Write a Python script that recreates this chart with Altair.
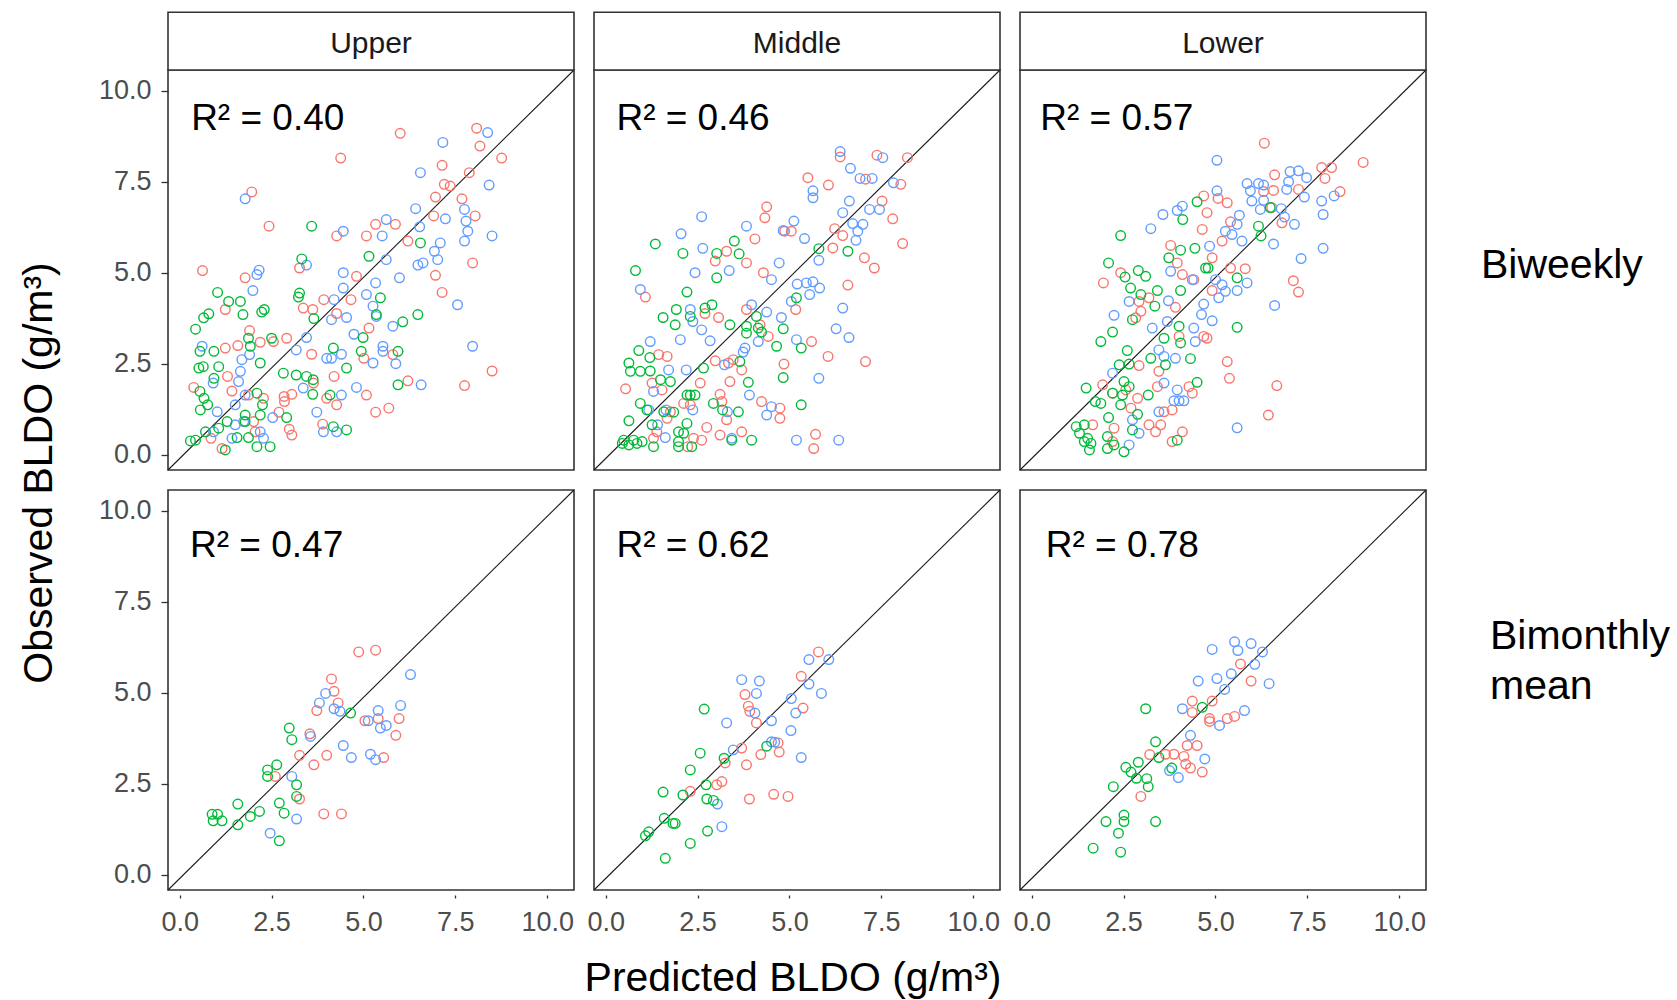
import altair as alt
import pandas as pd

FONT = "Liberation Sans, Arial, Helvetica, sans-serif"

# Axis limits shared by every panel (ggplot-style expanded range)
X_LIM = [-0.32, 10.73]
Y_LIM = [-0.42, 10.57]
TICKS = [0, 2.5, 5, 7.5, 10]

ZONES = ["Upper", "Middle", "Lower"]
GROUPS = ["Group 1", "Group 2", "Group 3"]
COLORS = ["#F8766D", "#00BA38", "#619CFF"]

# R² per panel: [row][column]
R2_LABELS = [["R² = 0.40", "R² = 0.46", "R² = 0.57"],
             ["R² = 0.47", "R² = 0.62", "R² = 0.78"]]
R2_X = [[0.31, 0.29, 0.23], [0.28, 0.29, 0.38]]
R2_Y = [[8.92, 8.92, 8.92], [8.74, 8.74, 8.74]]

# ---------------- Biweekly, Upper ----------------
UB_G1 = [(6.00, 8.83), (8.08, 8.97), (8.17, 8.48), (4.38, 8.15), (8.76, 8.15), (7.14, 7.95), (7.88, 7.75),
         (7.20, 7.43), (7.36, 7.38), (1.96, 7.22), (6.96, 7.08), (7.68, 7.03), (6.91, 6.56), (8.04, 6.56),
         (2.43, 6.28), (5.33, 6.33), (5.87, 6.33), (4.27, 6.01), (5.08, 6.01), (6.21, 5.87), (7.97, 5.27),
         (0.62, 5.06), (1.78, 4.86), (6.96, 4.93), (4.81, 4.90), (3.26, 5.13), (7.14, 4.46), (3.92, 4.26),
         (4.66, 4.26), (1.24, 3.99), (3.36, 4.03), (3.62, 3.99), (4.27, 3.88), (5.15, 3.48), (1.90, 3.41),
         (2.91, 3.20), (2.55, 3.11), (1.24, 2.93), (1.58, 3.00), (3.59, 2.76), (5.01, 2.65), (5.80, 2.75),
         (4.20, 2.15), (6.21, 2.03), (8.50, 2.30), (7.75, 1.90), (0.38, 1.85), (1.42, 1.75), (3.05, 1.66),
         (5.08, 1.64), (2.84, 1.60), (2.85, 1.46), (4.00, 1.55), (4.27, 1.37), (5.33, 1.17), (5.69, 1.28),
         (2.70, 1.17), (3.89, 0.84), (2.98, 0.70), (3.05, 0.54), (2.01, 0.91), (2.05, 0.63), (0.85, 0.45),
         (1.15, 0.17), (1.87, 1.64), (2.28, 1.55), (1.30, 2.15), (2.19, 3.09), (3.64, 1.97)]
UB_G3 = [(8.38, 8.85), (7.16, 8.58), (6.55, 7.75), (8.42, 7.41), (1.78, 7.03), (6.42, 6.76), (7.75, 6.74),
         (7.23, 6.48), (5.62, 6.46), (6.53, 6.26), (7.79, 6.42), (7.84, 6.14), (7.75, 5.87), (8.50, 6.01),
         (4.45, 6.14), (5.51, 6.01), (7.09, 5.82), (6.93, 5.59), (5.62, 5.36), (7.02, 5.36), (6.62, 5.27),
         (6.48, 5.21), (3.45, 5.21), (2.16, 5.07), (2.10, 4.95), (4.45, 5.00), (5.33, 4.72), (5.98, 4.86),
         (1.99, 4.51), (4.45, 4.58), (4.20, 4.26), (5.08, 4.40), (5.26, 4.08), (5.35, 3.80), (7.56, 4.12),
         (4.54, 3.77), (4.13, 3.71), (5.80, 3.53), (4.74, 3.31), (3.45, 3.22), (7.97, 2.98), (5.53, 2.98),
         (5.53, 2.84), (3.17, 2.88), (4.40, 2.76), (4.00, 2.65), (4.13, 2.65), (5.26, 2.52), (5.88, 2.50),
         (1.69, 2.61), (1.90, 2.75), (0.61, 2.98), (1.65, 2.29), (0.91, 1.97), (1.60, 2.01), (3.36, 1.83),
         (4.81, 1.85), (4.40, 1.64), (6.57, 1.92), (3.73, 1.17), (2.53, 1.02), (1.02, 1.18), (1.51, 1.37),
         (3.91, 0.63), (4.27, 0.63), (2.19, 0.63), (2.28, 0.45), (1.51, 0.82), (1.74, 0.91), (1.42, 0.45),
         (1.78, 1.64), (0.92, 0.63)]
UB_G2 = [(3.59, 6.28), (6.55, 5.82), (3.32, 5.38), (5.15, 5.45), (3.26, 4.44), (3.23, 4.33), (1.03, 4.46),
         (1.65, 4.21), (1.33, 4.21), (5.46, 4.31), (0.79, 3.87), (0.65, 3.76), (1.72, 3.85), (2.30, 3.99),
         (2.23, 3.92), (3.65, 3.74), (5.35, 3.85), (6.48, 3.85), (6.07, 3.65), (0.43, 3.45), (4.99, 3.22),
         (1.87, 3.20), (2.50, 3.20), (4.18, 2.93), (0.55, 2.84), (0.93, 2.84), (1.92, 2.98), (4.94, 2.84),
         (5.94, 2.84), (0.52, 2.38), (0.64, 2.42), (1.06, 2.42), (2.19, 2.52), (2.82, 2.24), (3.17, 2.19),
         (3.45, 2.15), (3.63, 2.06), (4.54, 2.38), (5.94, 1.92), (0.93, 2.10), (0.55, 1.74), (0.66, 1.55),
         (0.76, 1.37), (0.56, 1.23), (2.10, 1.69), (2.25, 1.37), (3.62, 1.66), (4.09, 1.64), (2.91, 1.02),
         (1.78, 1.09), (1.78, 0.91), (4.18, 0.77), (4.54, 0.68), (2.46, 0.22), (2.10, 0.22), (1.24, 0.13),
         (0.29, 0.38), (0.43, 0.40), (0.70, 0.63), (1.06, 0.73), (1.56, 0.47), (1.87, 0.47), (1.29, 0.91),
         (2.19, 1.09)]

# ---------------- Biweekly, Middle ----------------
MB_G1 = [(6.38, 8.18), (7.38, 8.23), (8.21, 8.16), (5.50, 7.61), (6.06, 7.41), (7.07, 7.57), (8.03, 7.43),
         (7.52, 6.97), (4.38, 6.81), (4.33, 6.51), (7.81, 6.48), (4.87, 6.14), (5.05, 6.14), (4.06, 5.93),
         (6.23, 6.21), (6.45, 6.02), (6.18, 5.68), (8.08, 5.80), (3.29, 5.59), (2.98, 5.32), (3.83, 5.27),
         (7.04, 5.41), (7.31, 5.13), (4.29, 5.00), (6.59, 4.66), (1.08, 4.33), (3.83, 3.99), (3.07, 3.77),
         (2.70, 3.88), (5.17, 3.99), (4.20, 3.57), (4.42, 3.25), (5.60, 3.11), (6.05, 2.70), (7.07, 2.56),
         (1.44, 2.75), (1.67, 2.70), (2.98, 2.58), (3.34, 2.52), (3.47, 2.61), (3.70, 2.33), (4.85, 2.49),
         (0.54, 1.81), (1.26, 1.97), (2.57, 1.97), (3.38, 2.01), (3.11, 1.66), (1.53, 1.78), (2.12, 1.41),
         (2.30, 1.37), (3.16, 1.46), (4.24, 1.46), (4.74, 1.28), (4.74, 1.00), (3.29, 0.96), (2.75, 0.75),
         (3.11, 0.54), (3.70, 0.63), (2.61, 0.40), (5.71, 0.56), (5.66, 0.17), (1.30, 0.45), (1.39, 0.63),
         (1.67, 1.00), (1.76, 1.18), (2.39, 0.45), (2.23, 0.22)]
MB_G3 = [(6.38, 8.33), (6.66, 7.87), (7.54, 8.16), (6.92, 7.59), (7.25, 7.59), (7.83, 7.47), (5.64, 7.25),
         (5.64, 7.06), (6.63, 6.97), (7.18, 6.74), (7.45, 6.74), (6.45, 6.65), (2.61, 6.54), (3.83, 6.28),
         (5.12, 6.42), (6.72, 6.35), (7.00, 6.33), (6.86, 6.14), (6.81, 5.89), (2.05, 6.07), (5.41, 5.94),
         (4.83, 6.16), (2.64, 5.67), (5.80, 5.34), (4.72, 5.27), (3.36, 5.06), (2.43, 5.00), (4.51, 4.81),
         (5.21, 4.69), (5.46, 4.72), (5.64, 4.75), (5.82, 4.58), (5.55, 4.40), (0.94, 4.54), (5.05, 4.21),
         (6.45, 4.03), (3.97, 4.12), (4.38, 3.92), (4.78, 3.77), (2.30, 3.99), (2.37, 3.66), (2.61, 3.43),
         (2.84, 3.13), (2.03, 3.16), (1.21, 3.11), (6.27, 3.46), (6.62, 3.22), (5.19, 3.16), (4.15, 3.11),
         (3.79, 2.93), (3.74, 2.82), (3.23, 2.47), (2.19, 2.33), (1.71, 2.33), (1.30, 1.74), (3.91, 1.64),
         (5.80, 2.10), (4.38, 1.09), (4.51, 1.32), (3.31, 1.18), (2.37, 1.23), (1.64, 1.23), (1.17, 1.23),
         (3.43, 0.45), (5.19, 0.40), (6.34, 0.40), (1.62, 0.47), (1.41, 0.82)]
MB_G2 = [(1.35, 5.79), (2.10, 5.53), (3.50, 5.87), (3.63, 5.52), (3.02, 5.53), (0.81, 5.06), (3.02, 4.86),
         (2.21, 4.47), (5.80, 5.66), (6.59, 5.59), (5.19, 4.31), (2.89, 4.12), (2.70, 4.03), (1.92, 3.99),
         (1.56, 3.77), (2.30, 3.80), (1.89, 3.57), (3.38, 3.57), (3.83, 3.53), (4.10, 3.80), (4.15, 3.48),
         (4.83, 3.46), (3.83, 3.34), (4.24, 3.37), (4.65, 2.98), (5.32, 2.93), (0.90, 2.86), (1.20, 2.67),
         (0.63, 2.52), (0.67, 2.29), (0.94, 2.29), (1.21, 2.30), (1.49, 2.06), (1.76, 2.01), (2.66, 2.38),
         (3.65, 2.56), (4.83, 2.12), (3.88, 1.99), (2.21, 1.64), (2.30, 1.64), (2.43, 1.64), (2.93, 1.41),
         (3.18, 1.23), (3.61, 1.18), (5.32, 1.37), (0.94, 1.41), (1.12, 1.23), (0.63, 0.93), (1.58, 1.18),
         (1.85, 1.17), (2.21, 0.86), (1.26, 0.82), (1.98, 0.63), (2.12, 0.59), (3.97, 0.40), (3.43, 0.40),
         (0.49, 0.40), (0.76, 0.40), (0.85, 0.31), (0.63, 0.27), (0.99, 0.36), (0.45, 0.31), (1.30, 0.22),
         (1.98, 0.22), (2.34, 0.22), (1.98, 0.36)]

# ---------------- Biweekly, Lower ----------------
LB_G1 = [(6.33, 8.56), (9.02, 8.03), (7.89, 7.89), (8.16, 7.89), (7.98, 7.59), (8.39, 7.23), (6.61, 7.69),
         (6.58, 7.26), (6.31, 7.23), (7.26, 7.29), (4.68, 7.11), (5.07, 7.04), (5.32, 6.92), (4.77, 6.65),
         (5.41, 6.40), (4.64, 6.19), (6.53, 6.79), (6.81, 6.37), (3.78, 5.75), (5.18, 5.87), (4.91, 5.41),
         (3.96, 5.27), (4.10, 4.95), (4.41, 4.81), (1.95, 4.72), (2.42, 5.00), (5.81, 5.11), (5.41, 5.13),
         (7.12, 4.78), (7.26, 4.47), (4.91, 4.51), (2.92, 4.21), (3.19, 4.31), (2.83, 3.76), (2.97, 3.94),
         (3.91, 4.05), (4.68, 3.25), (4.77, 3.20), (4.01, 3.25), (5.32, 2.56), (5.38, 2.10), (6.67, 1.90),
         (6.44, 1.09), (2.92, 2.45), (3.46, 2.29), (3.42, 1.87), (4.28, 1.87), (4.37, 1.69), (3.82, 1.23),
         (3.60, 1.18), (2.88, 1.55), (2.56, 1.78), (2.20, 1.69), (3.19, 0.82), (3.51, 0.82), (4.10, 0.63),
         (3.37, 0.63), (3.82, 0.36), (2.24, 0.73), (1.66, 0.82), (2.20, 0.36), (1.93, 1.92), (2.70, 1.28)]
LB_G3 = [(5.04, 8.09), (7.03, 7.78), (7.26, 7.80), (7.48, 7.61), (5.86, 7.45), (6.17, 7.45), (5.95, 7.25),
         (6.31, 7.41), (6.99, 7.50), (6.94, 7.29), (7.42, 7.08), (7.89, 6.97), (8.23, 7.11), (7.93, 6.60),
         (5.99, 6.97), (6.31, 6.99), (6.22, 6.74), (6.79, 6.76), (6.88, 6.53), (7.15, 6.33), (5.04, 7.25),
         (4.10, 6.83), (3.96, 6.71), (3.57, 6.60), (3.24, 6.21), (5.65, 6.58), (5.59, 6.33), (5.27, 6.14),
         (5.45, 6.05), (5.72, 5.87), (4.84, 5.73), (6.58, 5.79), (7.93, 5.67), (7.33, 5.39), (3.78, 5.04),
         (4.37, 4.81), (5.00, 4.81), (5.18, 4.67), (5.59, 4.51), (5.86, 4.72), (5.27, 4.49), (5.09, 4.31),
         (2.65, 4.21), (3.72, 4.23), (4.68, 4.14), (6.61, 4.10), (2.24, 3.83), (4.62, 3.85), (4.91, 3.68),
         (3.69, 3.66), (4.41, 3.48), (3.28, 3.48), (4.45, 3.11), (3.46, 2.88), (3.60, 2.70), (3.91, 2.65),
         (2.20, 2.24), (3.60, 1.97), (3.96, 1.78), (3.87, 1.48), (4.01, 1.48), (4.14, 1.48), (3.46, 1.18),
         (2.74, 0.96), (2.92, 0.59), (5.59, 0.74), (2.65, 0.27)]
LB_G2 = [(4.50, 6.95), (4.11, 6.46), (2.42, 6.02), (4.05, 5.62), (4.44, 5.67), (2.09, 5.27), (3.73, 5.41),
         (4.73, 5.13), (4.80, 5.13), (2.90, 5.06), (3.10, 4.90), (2.54, 4.88), (6.17, 6.28), (6.24, 6.01),
         (6.49, 6.79), (5.59, 4.86), (2.69, 4.58), (3.42, 4.51), (4.05, 4.51), (2.97, 4.40), (3.35, 4.08),
         (2.74, 3.71), (5.59, 3.50), (2.20, 3.37), (4.01, 3.53), (1.88, 3.11), (3.60, 3.20), (4.05, 3.07),
         (2.60, 2.86), (3.24, 2.65), (4.32, 2.64), (3.64, 2.47), (2.38, 2.47), (2.65, 2.49), (2.51, 2.01),
         (2.65, 1.87), (1.48, 1.83), (4.50, 1.99), (2.20, 1.69), (2.47, 1.64), (1.73, 1.46), (1.88, 1.41),
         (2.42, 1.37), (3.17, 1.64), (2.88, 1.11), (2.09, 1.02), (1.21, 0.77), (1.43, 0.82), (1.30, 0.59),
         (1.52, 0.45), (1.43, 0.36), (1.61, 0.31), (1.57, 0.13), (2.06, 0.50), (2.24, 0.27), (2.51, 0.08),
         (3.96, 0.40), (2.74, 0.68), (2.06, 0.17)]

# ---------------- Bimonthly mean, Upper ----------------
UM_G1 = [(4.87, 6.12), (5.33, 6.17), (4.13, 5.38), (4.20, 5.04), (4.31, 4.72), (3.73, 4.51), (3.54, 3.87),
         (5.97, 4.29), (5.40, 4.29), (5.04, 4.23), (5.88, 3.83), (3.26, 3.28), (4.00, 3.28), (3.65, 3.02),
         (5.55, 3.22), (2.60, 2.70), (3.26, 2.08), (3.92, 1.67), (4.40, 1.67)]
UM_G3 = [(6.28, 5.50), (3.97, 4.98), (3.80, 4.72), (6.01, 4.65), (5.40, 4.51), (4.20, 4.56), (4.36, 4.49),
         (5.13, 4.23), (5.46, 4.03), (5.62, 4.10), (3.56, 3.80), (4.45, 3.55), (4.67, 3.22), (5.19, 3.31),
         (5.33, 3.16), (3.05, 2.70), (3.18, 1.53), (2.46, 1.14)]
UM_G2 = [(4.65, 4.44), (2.98, 4.03), (3.05, 3.71), (2.64, 3.02), (2.39, 2.88), (2.39, 2.70), (3.18, 2.47),
         (3.18, 2.15), (1.58, 1.94), (2.71, 1.97), (2.84, 1.69), (2.17, 1.74), (1.92, 1.60), (1.58, 1.37),
         (0.88, 1.66), (1.03, 1.66), (0.91, 1.48), (1.15, 1.48), (2.71, 0.93)]

# ---------------- Bimonthly mean, Middle ----------------
MM_G1 = [(5.79, 6.12), (5.32, 5.45), (3.79, 4.95), (3.88, 4.63), (3.92, 4.49), (5.37, 4.58), (4.10, 4.17),
         (3.70, 3.48), (4.69, 3.62), (4.72, 3.37), (4.22, 3.30), (3.25, 3.07), (3.83, 3.02), (3.16, 2.56),
         (3.02, 2.47), (2.30, 2.29), (3.91, 2.08), (4.57, 2.21), (4.96, 2.15)]
MM_G3 = [(5.53, 5.91), (6.07, 5.91), (3.70, 5.36), (4.18, 5.32), (5.53, 5.24), (4.10, 4.98), (5.87, 4.98),
         (5.05, 4.84), (5.17, 4.44), (4.06, 4.44), (4.51, 4.23), (3.29, 4.17), (5.04, 3.96), (4.51, 3.65),
         (4.60, 3.64), (3.47, 3.43), (5.32, 3.22), (3.04, 1.94), (3.16, 1.32)]
MM_G2 = [(2.68, 4.55), (4.38, 3.53), (2.57, 3.34), (3.22, 3.20), (2.30, 2.88), (2.73, 2.47), (1.56, 2.27),
         (2.10, 2.19), (2.75, 2.08), (2.93, 2.04), (1.59, 1.55), (1.83, 1.41), (1.89, 1.41), (1.17, 1.18),
         (1.08, 1.07), (2.77, 1.20), (2.30, 0.86), (1.62, 0.45)]

# ---------------- Bimonthly mean, Lower ----------------
LM_G1 = [(5.68, 5.79), (5.97, 5.32), (4.37, 4.77), (4.91, 4.77), (4.37, 4.46), (4.84, 4.29), (4.84, 4.21),
         (5.32, 4.29), (5.52, 4.35), (4.23, 3.55), (4.50, 3.55), (3.21, 3.30), (3.64, 3.31), (3.87, 3.31),
         (4.14, 3.25), (4.19, 3.04), (4.32, 2.93), (4.64, 2.82), (2.97, 2.15)]
LM_G3 = [(5.52, 6.40), (5.97, 6.35), (4.91, 6.19), (5.61, 6.16), (6.28, 6.12), (6.07, 5.78), (5.43, 5.52),
         (4.53, 5.32), (5.04, 5.39), (6.46, 5.25), (5.25, 5.09), (4.10, 4.56), (5.79, 4.51), (5.11, 4.10),
         (4.32, 3.83), (4.71, 3.18), (3.75, 2.86), (3.99, 2.67)]
LM_G2 = [(3.10, 4.56), (4.64, 4.60), (3.37, 3.65), (3.46, 3.22), (2.90, 3.09), (2.56, 2.95), (2.70, 2.82),
         (2.85, 2.65), (3.13, 2.64), (2.22, 2.42), (3.17, 2.42), (3.81, 2.93), (2.51, 1.64), (2.51, 1.46),
         (2.02, 1.46), (3.37, 1.46), (2.36, 1.14), (1.67, 0.73), (2.42, 0.62)]

PANELS = [
    [(UB_G1, UB_G2, UB_G3), (MB_G1, MB_G2, MB_G3), (LB_G1, LB_G2, LB_G3)],
    [(UM_G1, UM_G2, UM_G3), (MM_G1, MM_G2, MM_G3), (LM_G1, LM_G2, LM_G3)],
]

W, H = 406, 400        # plot area of one panel
STRIP_H = 57.7         # facet strip above the top row


def points_frame(g1, g2, g3):
    rows = []
    # drawn in this order: group 1, group 3, group 2
    for name, pts in ((GROUPS[0], g1), (GROUPS[2], g3), (GROUPS[1], g2)):
        rows += [{"predicted": px, "observed": py, "group": name} for px, py in pts]
    return pd.DataFrame(rows)


def make_panel(r, c):
    xs = alt.Scale(domain=X_LIM, nice=False, zero=False)
    ys = alt.Scale(domain=Y_LIM, nice=False, zero=False)
    if r == 1:
        x_axis = alt.Axis(values=TICKS, format=".1f", title=None, offset=5, tickSize=3,
                          labelPadding=11, labelFlush=False, labelOverlap=False)
    else:
        x_axis = None
    if c == 0:
        y_axis = alt.Axis(values=TICKS, format=".1f", title=None, tickSize=7,
                          labelPadding=10, labelFlush=False, labelOverlap=False)
    else:
        y_axis = None
    X = alt.X("predicted:Q", scale=xs, axis=x_axis)
    Y = alt.Y("observed:Q", scale=ys, axis=y_axis)

    diag = alt.Chart(pd.DataFrame({"predicted": X_LIM, "observed": Y_LIM})).mark_line(
        color="#1A1A1A", strokeWidth=1.1).encode(x=X, y=Y)

    pts = alt.Chart(points_frame(*PANELS[r][c])).mark_point(
        shape="circle", filled=False, size=92, strokeWidth=1.4, opacity=1).encode(
        x=X, y=Y,
        color=alt.Color("group:N", scale=alt.Scale(domain=GROUPS, range=COLORS), legend=None))

    r2 = alt.Chart(pd.DataFrame({"predicted": [R2_X[r][c]], "observed": [R2_Y[r][c]],
                                 "label": [R2_LABELS[r][c]]})).mark_text(
        align="left", baseline="alphabetic", fontSize=37, font=FONT, color="#000000").encode(
        x=X, y=Y, text="label:N")

    layers = [diag, pts, r2]

    if r == 0:
        strip_box = alt.Chart(pd.DataFrame({"zone": [ZONES[c]]})).mark_rect(
            fill="#FFFFFF", stroke="#333333", strokeWidth=1.6).encode(
            x=alt.value(0), x2=alt.value(W), y=alt.value(-STRIP_H), y2=alt.value(0))
        strip_text = alt.Chart(pd.DataFrame({"zone": [ZONES[c]]})).mark_text(
            fontSize=30, font=FONT, color="#1A1A1A", baseline="alphabetic", align="center").encode(
            x=alt.value(W / 2), y=alt.value(-17), text="zone:N")
        layers += [strip_box, strip_text]

    if c == 2:
        row_txt = "Biweekly" if r == 0 else "Bimonthly\nmean"
        row_y = 207.6 if r == 0 else 159
        row_x = 461 if r == 0 else 470
        lab = alt.Chart(pd.DataFrame({"t": [row_txt]})).mark_text(
            fontSize=41, font=FONT, color="#000000", align="left", baseline="alphabetic",
            lineBreak="\n", lineHeight=50).encode(
            x=alt.value(row_x), y=alt.value(row_y), text="t:N")
        layers.append(lab)

    if r == 0 and c == 0:
        ytitle = alt.Chart(pd.DataFrame({"t": ["Observed BLDO (g/m³)"]})).mark_text(
            fontSize=41, font=FONT, color="#000000", align="center", baseline="alphabetic",
            angle=270).encode(x=alt.value(-116), y=alt.value(403), text="t:N")
        layers.append(ytitle)

    if r == 1 and c == 0:
        xtitle = alt.Chart(pd.DataFrame({"t": ["Predicted BLDO (g/m³)"]})).mark_text(
            fontSize=41, font=FONT, color="#000000", align="center", baseline="alphabetic").encode(
            x=alt.value(625), y=alt.value(501), text="t:N")
        layers.append(xtitle)

    return alt.layer(*layers).properties(width=W, height=H)


panels = [make_panel(r, c) for r in range(2) for c in range(3)]

chart = alt.concat(*panels, columns=3, spacing={"row": 20, "column": 20}, bounds="flush").properties(
    padding={"left": 18, "top": 10, "right": 5, "bottom": 5},
    background="#FFFFFF",
).configure_view(
    stroke="#333333", strokeWidth=1.6
).configure_axis(
    grid=False, domain=False, labelFont=FONT, labelFontSize=27, labelColor="#4D4D4D",
    tickColor="#333333", tickWidth=1.3
)

chart.save("out.html", embed_options={"renderer": "svg", "actions": False})
